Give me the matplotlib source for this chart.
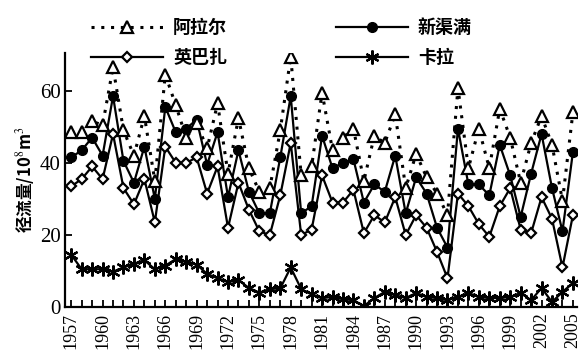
import numpy as np
import matplotlib.pyplot as plt
from matplotlib.ticker import MultipleLocator

plt.rcParams['font.family'] = ['Noto Sans CJK SC', 'DejaVu Sans']
plt.rcParams['mathtext.fontset'] = 'stix'

# years and runoff (10^8 m^3)
years = np.arange(1957, 2006)

aral = [48.5, 48.5, 51.5, 50.5, 66.5, 49, 42, 53, 35, 64.5,
        56, 47, 51, 44, 56.5, 37, 52.5, 38.5, 32, 33,
        49, 69.5, 36.5, 39, 59.5, 43.5, 47, 49.5, 35, 47.5,
        45.5, 53.5, 33, 42.5, 36, 31.5, 25.5, 60.8, 38.5, 49.5,
        38.5, 55, 47, 34.5, 45.5, 53, 45, 29.5, 54]

xinquman = [41.5, 43.5, 47, 42, 58.5, 40.5, 34.5, 44.5, 30, 55.5,
            48.5, 49.5, 52, 39.5, 48.5, 30.5, 43.5, 32, 26, 26,
            41.5, 58.5, 26, 28, 47.5, 38.5, 40, 41, 29, 34,
            32, 42, 26, 36, 31.5, 22, 16.5, 49.5, 34, 34,
            31, 45, 36.5, 25, 37, 48, 33, 21, 43]

yingbazha = [33.5, 35.5, 39, 35.5, 48, 33, 28.5, 35.5, 23.5, 44.5,
             40, 40, 41.5, 31.5, 39, 22, 34.5, 27, 21, 20,
             31, 45.5, 20, 21.5, 36.5, 29, 29, 32.5, 20.5, 25.5,
             23.5, 30.5, 20, 25.5, 22, 15.3, 8, 31.5, 28, 23,
             19.5, 28, 33, 21.5, 20.5, 30.5, 24.5, 11, 25.5]

kala = [14.5, 10.5, 10.5, 10.5, 9.8, 11, 12, 13, 10.5, 11.5,
        13.3, 12.5, 11.8, 9.2, 8, 7, 7.5, 5.3, 4, 5,
        5.2, 11, 5, 3.5, 2.5, 2.8, 2.2, 1.9, 0.3, 2.5,
        4.2, 3.3, 2.5, 3.9, 2.8, 2.5, 1.9, 2.8, 3.9, 2.8,
        2.5, 2.5, 2.8, 3.9, 1.9, 5.3, 1.4, 4.2, 6.7]

year_labels = list(range(1957, 2006, 3))

fig = plt.figure(figsize=(5.8, 3.55), dpi=100)
ax = fig.add_axes([0.112, 0.135, 0.883, 0.716])

l1, = ax.plot(years, aral, linestyle=(0, (1, 2.2)), lw=2.2, color='black',
              marker='^', ms=8, mfc='white', mec='black', mew=1.6,
              label='阿拉尔', zorder=5)
l2, = ax.plot(years, xinquman, linestyle='-', lw=1.6, color='black',
              marker='o', ms=7, mfc='black', mec='black',
              label='新渠满', zorder=4)
l3, = ax.plot(years, yingbazha, linestyle='-', lw=1.6, color='black',
              marker='D', ms=5.5, mfc='white', mec='black', mew=1.6,
              label='英巴扎', zorder=3)
l4, = ax.plot(years, kala, linestyle='-', lw=1.6, color='black',
              marker=(6, 2, 0), ms=10, mec='black', mew=1.6,
              label='卡拉', zorder=3)

ax.set_xlim(1956.4, 2005.4)
ax.set_ylim(0, 70.5)
ax.set_xticks(year_labels)
ax.set_xticklabels([str(y) for y in year_labels], rotation=90,
                   family='Liberation Serif', fontsize=13)
ax.xaxis.set_minor_locator(MultipleLocator(1))
ax.set_yticks([0, 20, 40, 60])
ax.set_yticklabels(['0', '20', '40', '60'], family='Liberation Serif', fontsize=15)
ax.tick_params(axis='both', which='both', direction='in', width=1.3, color='black')
ax.tick_params(axis='x', which='major', length=5, pad=4)
ax.tick_params(axis='x', which='minor', length=5)
ax.tick_params(axis='y', length=5, pad=3)

for side in ['top', 'right']:
    ax.spines[side].set_visible(False)
for side in ['left', 'bottom']:
    ax.spines[side].set_linewidth(1.6)

ax.set_ylabel('径流量/10$^8$m$^3$', fontsize=12, fontweight='bold', labelpad=2)

fig.legend(handles=[l1, l3, l2, l4], ncol=2, frameon=False,
           loc='upper left', bbox_to_anchor=(0.129, 0.995),
           handlelength=4.0, handletextpad=0.55, columnspacing=6.0,
           labelspacing=0.6,
           prop={'family': 'Noto Sans CJK SC', 'size': 13, 'weight': 'bold'})

fig.savefig('out.png', dpi=100)
